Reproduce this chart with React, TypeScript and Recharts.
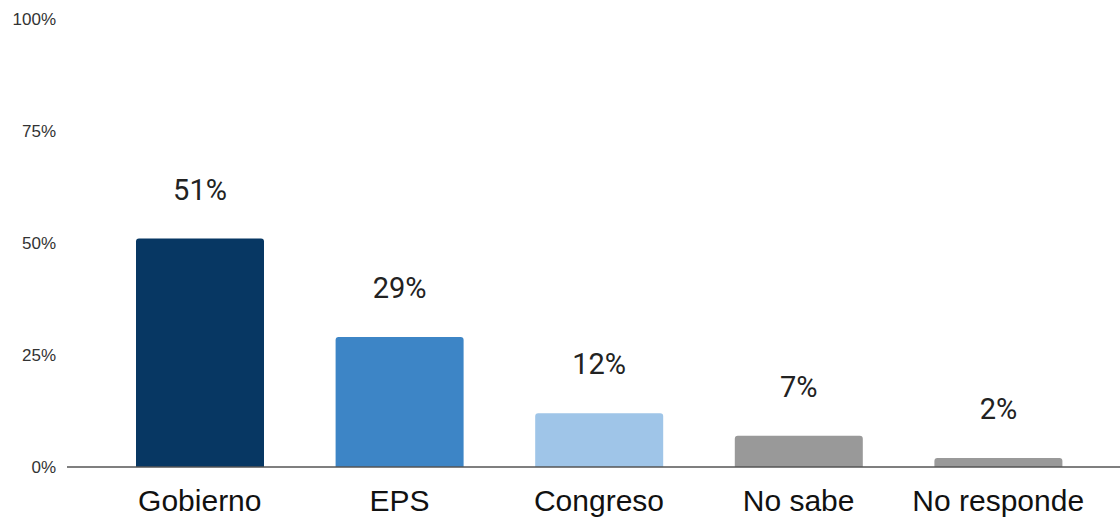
import { BarChart, Bar, XAxis, YAxis, Cell, LabelList } from "recharts";

const categories = ["Gobierno", "EPS", "Congreso", "No sabe", "No responde"];
const values = [51, 29, 12, 7, 2];
const barColors = ["#073763", "#3d85c6", "#9fc5e8", "#999999", "#999999"];
const yTicks = [0, 25, 50, 75, 100];

const data = categories.map((name, i) => ({ name, value: values[i] }));

export default function App() {
  return (
    <div style={{ position: "absolute", left: 0, top: 0, background: "#fff" }}>
      <BarChart
        width={1120}
        height={519}
        data={data}
        margin={{ top: 19, right: 0, bottom: 0, left: 0 }}
        barCategoryGap={36}
      >
        <XAxis
          dataKey="name"
          height={52}
          padding={{ left: 33, right: 22 }}
          axisLine={{ stroke: "#555", strokeWidth: 1.5 }}
          tickLine={false}
          tickSize={0}
          tickMargin={23}
          interval={0}
          tick={{ fill: "#111", fontSize: 30, fontFamily: "Liberation Sans, Arial, sans-serif" }}
        />
        <YAxis
          width={67}
          domain={[0, 100]}
          ticks={yTicks}
          tickFormatter={(v) => `${v}%`}
          axisLine={false}
          tickLine={false}
          tickSize={0}
          tickMargin={11}
          tick={{ fill: "#333", fontSize: 17, fontFamily: "Liberation Sans, Arial, sans-serif" }}
        />
        <Bar dataKey="value" barSize={128} radius={[3, 3, 0, 0]} isAnimationActive={false}>
          {data.map((d, i) => (
            <Cell key={d.name} fill={barColors[i]} />
          ))}
          <LabelList
            dataKey="value"
            position="top"
            offset={39}
            formatter={(v: any) => `${v}%`}
            style={{ fill: "#222", fontSize: 29, fontFamily: "Roboto, sans-serif" }}
          />
        </Bar>
      </BarChart>
    </div>
  );
}
